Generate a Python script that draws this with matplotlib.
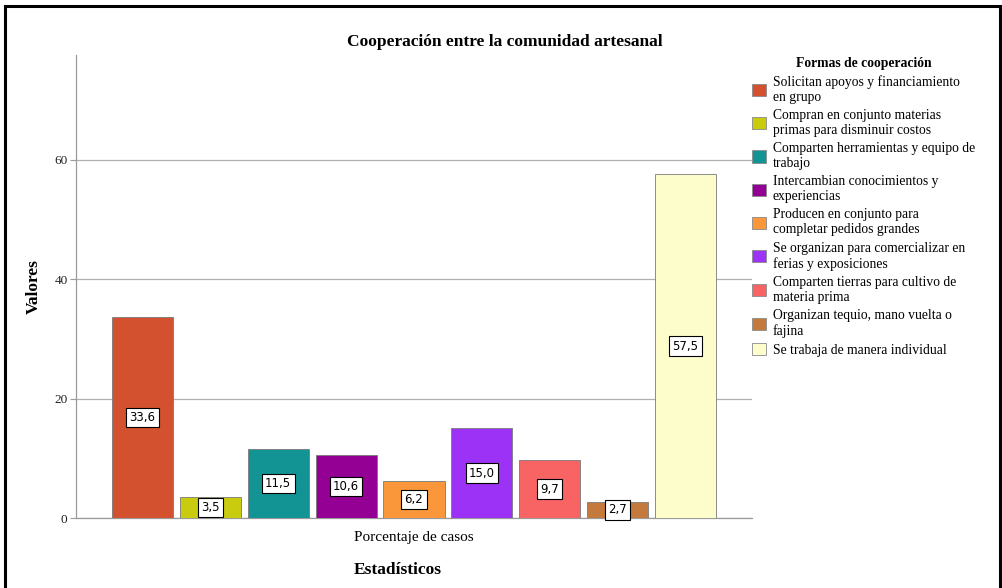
import matplotlib
matplotlib.use("Agg")
import matplotlib.pyplot as plt
from matplotlib.patches import Rectangle, Patch

# data
categorias = [
    "Solicitan apoyos y financiamiento\nen grupo",
    "Compran en conjunto materias\nprimas para disminuir costos",
    "Comparten herramientas y equipo de\ntrabajo",
    "Intercambian conocimientos y\nexperiencias",
    "Producen en conjunto para\ncompletar pedidos grandes",
    "Se organizan para comercializar en\nferias y exposiciones",
    "Comparten tierras para cultivo de\nmateria prima",
    "Organizan tequio, mano vuelta o\nfajina",
    "Se trabaja de manera individual",
]
porcentajes = [33.6, 3.5, 11.5, 10.6, 6.2, 15.0, 9.7, 2.7, 57.5]
colores = ["#D3512F", "#C9CB0E", "#129494", "#930093", "#F9973A",
           "#9B32F5", "#F86464", "#C47A3C", "#FDFDCB"]
y_ticks = [0, 20, 40, 60]

serif = "Liberation Serif"

fig = plt.figure(figsize=(10.02, 5.88), dpi=100)
ax = fig.add_axes([0.0758, 0.1190, 0.6747, 0.7875])

x = list(range(len(porcentajes)))
ax.bar(x, porcentajes, width=0.9, color=colores, edgecolor="#7a7a7a", linewidth=0.6, zorder=3)

for xi, v in zip(x, porcentajes):
    ax.text(xi, v / 2, f"{v:.1f}".replace(".", ","), ha="center", va="center",
            fontsize=8.5, family="DejaVu Sans", zorder=4,
            bbox=dict(boxstyle="square,pad=0.28", fc="white", ec="black", lw=0.8))

ax.set_xlim(-0.98, 8.98)
ax.set_ylim(0, 77.5)
ax.set_yticks(y_ticks)
ax.set_yticklabels([str(t) for t in y_ticks], family=serif, fontsize=9.5, color="#222222")
ax.set_xticks([])
ax.yaxis.grid(True, color="#b0b0b0", linewidth=0.9, zorder=0)
ax.tick_params(axis="y", length=4, color="#9a9a9a", pad=2)
for s in ["top", "right"]:
    ax.spines[s].set_visible(False)
for s in ["left", "bottom"]:
    ax.spines[s].set_color("#9a9a9a")
    ax.spines[s].set_linewidth(0.9)

ax.set_ylabel("Valores", family=serif, fontsize=12.5, fontweight="bold", labelpad=9)
ax.text(0.5, -0.028, "Porcentaje de casos", transform=ax.transAxes, ha="center", va="top",
        family=serif, fontsize=11)
fig.text(0.397, 0.030, "Estadísticos", ha="center", va="center", family=serif,
         fontsize=12.5, fontweight="bold")
fig.text(0.504, 0.9286, "Cooperación entre la comunidad artesanal", ha="center", va="center",
         family=serif, fontsize=12.5, fontweight="bold")

# legend
handles = [Patch(facecolor=c, edgecolor="#8a8a8a", linewidth=0.6) for c in colores]
leg = fig.legend(handles, categorias, loc="upper left", bbox_to_anchor=(0.744, 0.915),
                 frameon=False, title="Formas de cooperación", borderpad=0,
                 handlelength=1.0, handleheight=1.0, handletextpad=0.5,
                 labelspacing=0.38, prop=dict(family=serif, size=9.8),
                 title_fontproperties=dict(family=serif, size=9.8, weight="bold"))
for t in leg.get_texts():
    t.set_linespacing(1.2)

# outer border
fig.patches.append(Rectangle((0.005, -0.01), 0.993, 1.0, transform=fig.transFigure,
                             fill=False, edgecolor="black", linewidth=2.2))

fig.savefig("out.png", dpi=100)
